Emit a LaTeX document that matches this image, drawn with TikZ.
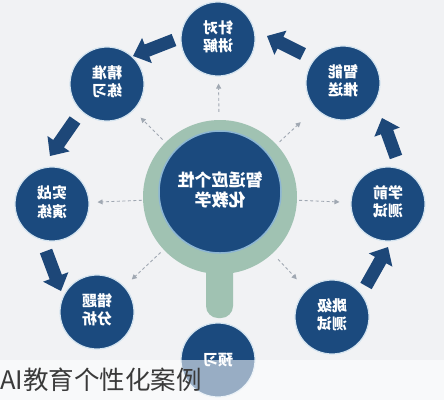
\documentclass[tikz,border=0pt]{standalone}
\usepackage{fontspec}
\usepackage{graphicx}
\usetikzlibrary{calc,arrows.meta}
\newfontfamily\cjk{Noto Sans CJK SC}
\definecolor{bgc}{HTML}{F1F2F4}
\definecolor{nodeblue}{HTML}{1B4A7E}
\definecolor{arrowblue}{HTML}{1D4778}
\definecolor{ringgreen}{HTML}{A0C2B2}
\definecolor{halo}{HTML}{D3E3EF}
\definecolor{innerhalo}{HTML}{8DB6D3}
\definecolor{dashgray}{HTML}{A0A8B2}
\definecolor{captgray}{HTML}{3A3A3A}
\newcommand{\mtwo}[2]{\reflectbox{\begin{tabular}{@{}c@{}}#1\\#2\end{tabular}}}
\newcommand{\blockarrow}[2]{%
  \coordinate (ba-b) at ($(#2)!15pt!(#1)$);
  \fill[arrowblue] ($(#1)!6.5pt!90:(#2)$) -- ($(ba-b)!6.5pt!90:(#2)$) -- ($(ba-b)!13.5pt!90:(#2)$) -- (#2)
    -- ($(ba-b)!13.5pt!-90:(#2)$) -- ($(ba-b)!6.5pt!-90:(#2)$) -- ($(#1)!6.5pt!-90:(#2)$) -- cycle;}
\tikzset{
  sat/.style={circle, fill=nodeblue, draw=halo, line width=1.2pt, minimum size=74pt, inner sep=0pt,
    text=white, font=\cjk\bfseries\fontsize{15}{18}\selectfont},
  dasharrow/.style={draw=dashgray, line width=0.9pt, dash pattern=on 3pt off 2.5pt,
    -{Triangle[length=5pt,width=5pt]}},
}
\begin{document}
\begin{tikzpicture}[x=1pt,y=-1pt]
\useasboundingbox (0,0) rectangle (444,400);
\fill[bgc] (0,0) rectangle (444,400);
% handle
\fill[ringgreen, rounded corners=12pt] (206,250) -- (206,318) -- (233,318) -- (233,250) -- cycle;
% centre
\node[circle, fill=ringgreen, minimum size=154pt, inner sep=0pt] (c) at (220,197) {};
\node[circle, fill=nodeblue, draw=innerhalo, line width=1.5pt, minimum size=122pt, inner sep=0pt,
  text=white, font=\cjk\bfseries\fontsize{17}{20}\selectfont] (ci) at (220,192) {\mtwo{智适应个性}{化教学}};
% satellites
\node[sat] (t)  at (218,39)  {\mtwo{针对}{讲解}};
\node[sat] (jz) at (107,84)  {\mtwo{精准}{练习}};
\node[sat] (zn) at (343,83)  {\mtwo{智能}{推送}};
\node[sat] (sz) at (52,204)  {\mtwo{实战}{演练}};
\node[sat] (xq) at (388,204) {\mtwo{学前}{测试}};
\node[sat] (ct) at (97,312)  {\mtwo{错题}{分析}};
\node[sat] (tj) at (332,317) {\mtwo{跳级}{测试}};
\node[sat] (yx) at (218,360) {\reflectbox{预习}};
% dashed arrows
\draw[dasharrow, shorten <=8pt, shorten >=7pt] (c) -- (t);
\draw[dasharrow, shorten <=4pt, shorten >=10pt] (c) -- (jz);
\draw[dasharrow, shorten <=4pt, shorten >=20pt] (c) -- (zn);
\draw[dasharrow, shorten <=1pt, shorten >=8pt] (c) -- (sz);
\draw[dasharrow, shorten <=2pt, shorten >=11pt] (c) -- (xq);
\draw[dasharrow, shorten <=4pt, shorten >=10pt] (c) -- (ct);
\draw[dasharrow, shorten <=8pt, shorten >=14pt] (c) -- (tj);
% block arrows
\coordinate (a1s) at (303,54); \coordinate (a1e) at (267,36);
\coordinate (a2s) at (174,40); \coordinate (a2e) at (133,56);
\coordinate (a3s) at (75,120); \coordinate (a3e) at (50,156);
\coordinate (a4s) at (46,251); \coordinate (a4e) at (61,291);
\coordinate (a5s) at (396,157); \coordinate (a5e) at (382,118);
\coordinate (a6s) at (366,286); \coordinate (a6e) at (388,247);
\blockarrow{a1s}{a1e}
\blockarrow{a2s}{a2e}
\blockarrow{a3s}{a3e}
\blockarrow{a4s}{a4e}
\blockarrow{a5s}{a5e}
\blockarrow{a6s}{a6e}
% caption band
\fill[white, opacity=0.55] (0,360) rectangle (444,400);
\node[anchor=base west, inner sep=0pt, text=captgray, font=\cjk\fontsize{25.5}{26}\selectfont] (cap) at (0,389) {AI教育个性化案例};
\end{tikzpicture}
\end{document}
